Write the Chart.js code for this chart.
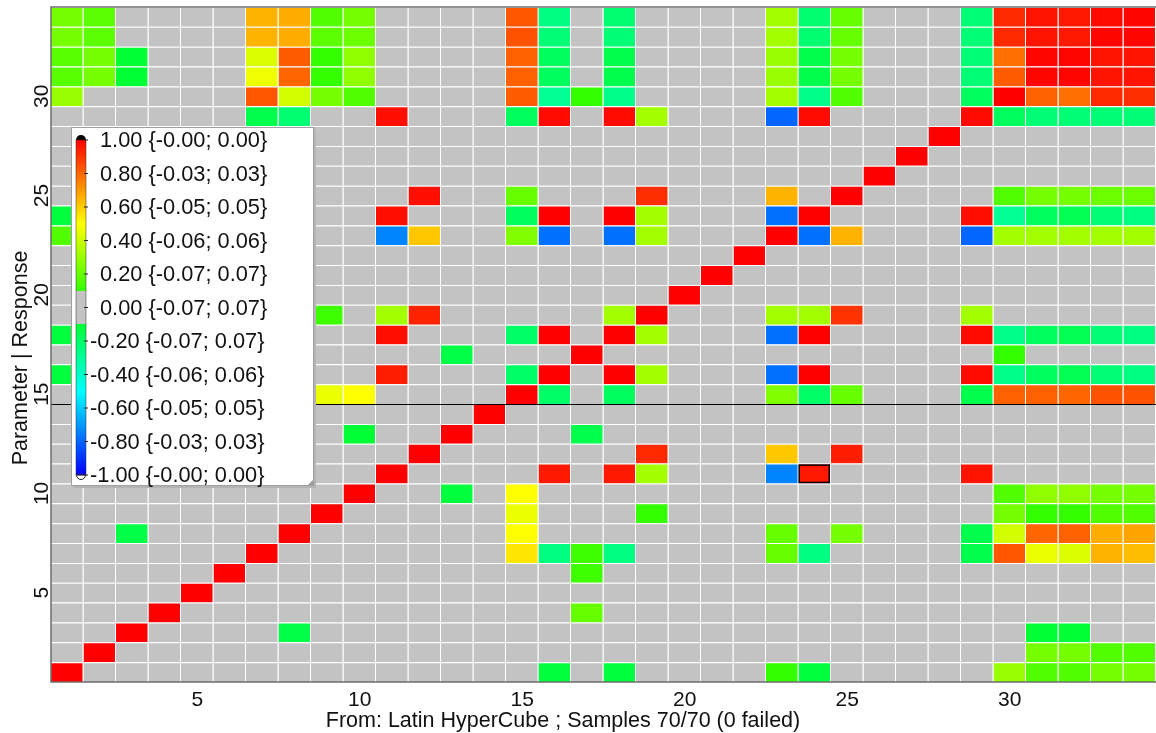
<!DOCTYPE html>
<html><head><meta charset="utf-8">
<script src="https://cdn.jsdelivr.net/npm/chart.js@4.4.1/dist/chart.umd.min.js"></script>
<style>html,body{margin:0;padding:0;background:#fff;overflow:hidden}canvas{display:block}</style>
</head><body>
<canvas id="c" width="1156" height="733"></canvas>
<script>
// ---- categories ----
const columns = ['1','2','3','4','5','6','7','8','9','10','11','12','13','14','15','16','17','18','19','20','21','22','23','24','25','26','27','28','29','30','31','32','33','34'];
const rows = [1,2,3,4,5,6,7,8,9,10,11,12,13,14,15,16,17,18,19,20,21,22,23,24,25,26,27,28,29,30,31,32,33,34];
// ---- correlation values per row (row r, columns 1..34); 0 = not significant (grey) ----
const r01 = [1,0,0,0,0, 0,0,0,0,0, 0,0,0,0,0, -.12,0,-.12,0,0, 0,0,.10,-.12,0, 0,0,0,0,.30, .16,.16,.23,.23];
const r02 = [0,1,0,0,0, 0,0,0,0,0, 0,0,0,0,0, 0,0,0,0,0, 0,0,0,0,0, 0,0,0,0,0, .23,.23,.16,.16];
const r03 = [0,0,1,0,0, 0,0,-.14,0,0, 0,0,0,0,0, 0,0,0,0,0, 0,0,0,0,0, 0,0,0,0,0, -.10,-.10,0,0];
const r04 = [0,0,0,1,0, 0,0,0,0,0, 0,0,0,0,0, 0,.20,0,0,0, 0,0,0,0,0, 0,0,0,0,0, 0,0,0,0];
const r05 = [0,0,0,0,1, 0,0,0,0,0, 0,0,0,0,0, 0,0,0,0,0, 0,0,0,0,0, 0,0,0,0,0, 0,0,0,0];
const r06 = [0,0,0,0,0, 1,0,0,0,0, 0,0,0,0,0, 0,.12,0,0,0, 0,0,0,0,0, 0,0,0,0,0, 0,0,0,0];
const r07 = [0,0,0,0,0, 0,1,0,0,0, 0,0,0,0,.55, -.25,.12,-.25,0,0, 0,0,.20,-.25,0, 0,0,0,-.15,.83, .46,.43,.65,.63];
const r08 = [0,0,-.14,0,0, 0,0,1,0,0, 0,0,0,0,.50, 0,0,0,0,0, 0,0,.20,0,.23, 0,0,0,-.15,.41, .80,.81,.66,.68];
const r09 = [0,0,0,0,0, 0,0,0,1,0, 0,0,0,0,.46, 0,0,0,.10,0, 0,0,0,0,0, 0,0,0,0,.23, .10,.10,.16,.16];
const r10 = [0,0,0,0,0, 0,0,0,0,1, 0,0,-.12,0,.50, 0,0,0,0,0, 0,0,0,0,0, 0,0,0,0,.16, .28,.28,.23,.23];
const r11 = [0,0,0,0,0, 0,0,0,0,0, 1,0,0,0,0, .95,0,.95,.32,0, 0,0,-.74,.95,0, 0,0,0,.96,0, 0,0,0,0];
const r12 = [0,0,0,0,0, 0,0,0,0,0, 0,1,0,0,0, 0,0,0,.92,0, 0,0,.61,0,.94, 0,0,0,0,0, 0,0,0,0];
const r13 = [0,0,0,0,0, 0,0,0,0,-.10, 0,0,1,0,0, 0,-.15,0,0,0, 0,0,0,0,0, 0,0,0,0,0, 0,0,0,0];
const r14 = [0,0,0,0,0, 0,0,0,0,0, 0,0,0,1,0, 0,0,0,0,0, 0,0,0,0,0, 0,0,0,0,0, 0,0,0,0];
const r15 = [0,0,0,0,0, 0,.55,.50,.46,.50, 0,0,0,0,1, -.20,0,-.18,0,0, 0,0,.25,-.20,.20, 0,0,0,-.15,.81, .81,.80,.84,.84];
const r16 = [-.12,0,0,0,0, 0,-.25,0,0,0, .94,0,0,0,-.20, 1,0,1,.32,0, 0,0,-.78,1,0, 0,0,0,.98,-.27, -.18,-.16,-.23,-.25];
const r17 = [0,0,0,.20,0, .12,.12,0,0,0, 0,0,-.14,0,0, 0,1,0,0,0, 0,0,0,0,0, 0,0,0,0,.10, 0,0,0,0];
const r18 = [-.12,0,0,0,0, 0,-.25,0,0,0, .97,0,0,0,-.20, 1,0,1,.32,0, 0,0,-.78,1,0, 0,0,0,.98,-.27, -.18,-.16,-.23,-.25];
const r19 = [0,0,0,0,0, 0,0,0,.12,0, .32,.93,0,0,0, 0,0,.32,1,0, 0,0,.32,.32,.90, 0,0,0,.32,0, 0,0,0,0];
const r20 = [0,0,0,0,0, 0,0,0,0,0, 0,0,0,0,0, 0,0,0,0,1, 0,0,0,0,0, 0,0,0,0,0, 0,0,0,0];
const r21 = [0,0,0,0,0, 0,0,0,0,0, 0,0,0,0,0, 0,0,0,0,0, 1,0,0,0,0, 0,0,0,0,0, 0,0,0,0];
const r22 = [0,0,0,0,0, 0,0,0,0,0, 0,0,0,0,0, 0,0,0,0,0, 0,1,0,0,0, 0,0,0,0,0, 0,0,0,0];
const r23 = [.16,0,0,0,0, 0,.20,.20,0,0, -.74,.61,0,0,.25, -.78,0,-.78,.32,0, 0,0,1,-.78,.65, 0,0,0,-.80,.32, .32,.32,.32,.32];
const r24 = [-.12,0,0,0,0, 0,-.25,0,0,0, .97,0,0,0,-.18, 1,0,1,.32,0, 0,0,-.78,1,0, 0,0,0,.97,-.29, -.18,-.16,-.23,-.25];
const r25 = [0,0,0,0,0, 0,0,.23,0,0, 0,.97,0,0,.20, 0,0,0,.91,0, 0,0,.65,0,1, 0,0,0,0,.16, .23,.23,.21,.21];
const r26 = [0,0,0,0,0, 0,0,0,0,0, 0,0,0,0,0, 0,0,0,0,0, 0,0,0,0,0, 1,0,0,0,0, 0,0,0,0];
const r27 = [0,0,0,0,0, 0,0,0,0,0, 0,0,0,0,0, 0,0,0,0,0, 0,0,0,0,0, 0,1,0,0,0, 0,0,0,0];
const r28 = [0,0,0,0,0, 0,0,0,0,0, 0,0,0,0,0, 0,0,0,0,0, 0,0,0,0,0, 0,0,1,0,0, 0,0,0,0];
const r29 = [0,0,0,0,0, 0,-.15,-.22,0,0, .97,0,0,0,-.18, .98,0,.98,.32,0, 0,0,-.80,.98,0, 0,0,0,.98,-.18, -.23,-.23,-.23,-.23];
const r30 = [.30,0,0,0,0, 0,.83,.41,.23,.16, 0,0,0,0,.82, -.29,.10,-.27,0,0, 0,0,.32,-.27,.16, 0,0,0,-.18,1, .81,.78,.92,.91];
const r31 = [.17,.23,-.10,0,0, 0,.47,.80,.10,.28, 0,0,0,0,.81, -.18,0,-.15,0,0, 0,0,.30,-.15,.23, 0,0,0,-.23,.82, .99,.99,.96,.96];
const r32 = [.17,.23,-.10,0,0, 0,.43,.82,.10,.28, 0,0,0,0,.81, -.18,0,-.15,0,0, 0,0,.30,-.15,.23, 0,0,0,-.23,.78, .99,.99,.96,.96];
const r33 = [.23,.18,0,0,0, 0,.65,.66,.18,.21, 0,0,0,0,.84, -.23,0,-.23,0,0, 0,0,.32,-.22,.20, 0,0,0,-.23,.92, .96,.95,.99,.99];
const r34 = [.23,.18,0,0,0, 0,.65,.66,.16,.23, 0,0,0,0,.83, -.25,0,-.22,0,0, 0,0,.32,-.22,.20, 0,0,0,-.23,.92, .96,.95,.98,.99];
// ---- tick labels, titles, legend ----
const xTickValues = [5,10,15,20,25,30];
const yTickValues = [5,10,15,20,25,30];
const xTitle = 'From: Latin HyperCube ; Samples 70/70 (0 failed)';
const yTitle = 'Parameter | Response';
const legendLevels = [1.00, 0.80, 0.60, 0.40, 0.20, 0.00, -0.20, -0.40, -0.60, -0.80, -1.00];
const legendLabels = ['1.00 {-0.00; 0.00}','0.80 {-0.03; 0.03}','0.60 {-0.05; 0.05}','0.40 {-0.06; 0.06}','0.20 {-0.07; 0.07}','0.00 {-0.07; 0.07}','-0.20 {-0.07; 0.07}','-0.40 {-0.06; 0.06}','-0.60 {-0.05; 0.05}','-0.80 {-0.03; 0.03}','-1.00 {-0.00; 0.00}'];
const splitAt = 14.5;            // boundary between parameters and responses
const highlightCell = {row: 11, col: 24};

// ---- build ----
const rowValues = [r01,r02,r03,r04,r05,r06,r07,r08,r09,r10,r11,r12,r13,r14,r15,r16,r17,r18,r19,r20,r21,r22,r23,r24,r25,r26,r27,r28,r29,r30,r31,r32,r33,r34];
const GREY = '#c3c3c3';
const FONT = '"Liberation Sans", Arial, Helvetica, sans-serif';
function colorFor(v, thr) {
  if (Math.abs(v) < (thr || 0.09)) return GREY;
  const c = Math.max(-1, Math.min(1, v));
  return 'hsl(' + (120 * (1 - c)).toFixed(1) + ',100%,50%)';
}
const datasets = rowValues.map((vals, i) => {
  const r = rows[i];
  return {
    label: 'row ' + r,
    data: vals.map(() => [r - 0.5, r + 0.5]),
    backgroundColor: vals.map(v => colorFor(v)),
    borderColor: '#ffffff',
    borderWidth: {top: 1, right: 1, bottom: 0, left: 0},
    borderSkipped: false,
    inflateAmount: 0,
    grouped: false,
    barPercentage: 1,
    categoryPercentage: 1
  };
});

const decor = {
  id: 'decor',
  afterDatasetsDraw(chart) {
    const {ctx, chartArea: a, scales: {x, y}} = chart;
    ctx.save();
    // highlighted cell
    const el = chart.getDatasetMeta(highlightCell.row - 1).data[highlightCell.col - 1];
    const p = el.getProps(['x', 'y', 'base', 'width'], true);
    const top = Math.min(p.y, p.base), h = Math.abs(p.base - p.y);
    ctx.strokeStyle = '#000'; ctx.lineWidth = 1.5;
    ctx.strokeRect(p.x - p.width / 2 + 0.75, top + 1.5, p.width - 2.5, h - 2.5);
    // split line
    const ys = Math.round(y.getPixelForValue(splitAt)) + 0.5;
    ctx.strokeStyle = '#000'; ctx.lineWidth = 1.2;
    ctx.beginPath(); ctx.moveTo(a.left, ys); ctx.lineTo(a.right, ys); ctx.stroke();
    // frame
    ctx.strokeStyle = '#6e6e6e'; ctx.lineWidth = 1.5;
    ctx.beginPath();
    ctx.moveTo(a.right, a.top); ctx.lineTo(a.left, a.top); ctx.lineTo(a.left, a.bottom); ctx.lineTo(a.right, a.bottom);
    ctx.stroke();
    // x ticks
    ctx.fillStyle = '#111';
    ctx.font = '21px ' + FONT;
    ctx.textAlign = 'center'; ctx.textBaseline = 'alphabetic';
    xTickValues.forEach(v => {
      const px = x.getPixelForValue(v - 1);
      ctx.fillText(String(v), px, 706);
    });
    ctx.font = '21.5px ' + FONT;
    ctx.fillText(xTitle, 563, 727);
    // y ticks
    ctx.font = '21px ' + FONT;
    yTickValues.forEach(v => {
      const py = y.getPixelForValue(v);
      ctx.save(); ctx.translate(47.5, py); ctx.rotate(-Math.PI / 2);
      ctx.fillText(String(v), 0, 0); ctx.restore();
    });
    ctx.font = '21.5px ' + FONT;
    ctx.save(); ctx.translate(26.5, 358); ctx.rotate(-Math.PI / 2);
    ctx.fillText(yTitle, 0, 0); ctx.restore();
    ctx.restore();
  },
  afterDraw(chart) {
    const ctx = chart.ctx;
    ctx.save();
    // legend box
    const L = 71, T = 127, R = 314, B = 486;
    ctx.fillStyle = '#b4b4b4';
    ctx.fillRect(L + 2, T + 2, R - L, B - T);
    ctx.fillStyle = '#fff';
    ctx.fillRect(L, T, R - L, B - T);
    ctx.strokeStyle = '#a0a0a0'; ctx.lineWidth = 1;
    ctx.strokeRect(L + 0.5, T + 0.5, R - L - 1, B - T - 1);
    // grip
    ctx.fillStyle = '#9a9a9a';
    ctx.beginPath(); ctx.moveTo(R - 1, B - 6); ctx.lineTo(R - 1, B - 1); ctx.lineTo(R - 6, B - 1); ctx.closePath(); ctx.fill();
    // colour bar
    const bx = 76, bw = 10, yTop = 140, yBot = 475;
    for (let py = yTop; py < yBot; py++) {
      const v = 1 - 2 * (py + 0.5 - yTop) / (yBot - yTop);
      ctx.fillStyle = colorFor(v, 0.1);
      ctx.fillRect(bx, py, bw, 1.2);
    }
    ctx.fillStyle = '#000';
    ctx.beginPath(); ctx.arc(bx + bw / 2, yTop, bw / 2, Math.PI, 2 * Math.PI); ctx.closePath(); ctx.fill();
    ctx.fillStyle = '#fff'; ctx.strokeStyle = '#222'; ctx.lineWidth = 1;
    ctx.beginPath(); ctx.arc(bx + bw / 2, yBot, bw / 2 - 0.5, 0, Math.PI); ctx.closePath(); ctx.fill(); ctx.stroke();
    ctx.strokeStyle = 'rgba(40,40,40,0.6)'; ctx.lineWidth = 0.8;
    ctx.strokeRect(bx, yTop, bw, yBot - yTop);
    // labels
    ctx.font = '21.8px ' + FONT;
    ctx.fillStyle = '#111'; ctx.textAlign = 'left'; ctx.textBaseline = 'alphabetic';
    const step = (yBot - yTop) / (legendLevels.length - 1);
    legendLevels.forEach((lv, i) => {
      const cy = yTop + i * step;
      ctx.strokeStyle = '#222'; ctx.lineWidth = 1;
      ctx.beginPath(); ctx.moveTo(bx + bw - 2, cy); ctx.lineTo(bx + bw + 2, cy); ctx.stroke();
      ctx.fillText(legendLabels[i], lv < 0 ? 90 : 100, cy + 7.4);
    });
    ctx.restore();
  }
};

new Chart(document.getElementById('c'), {
  type: 'bar',
  data: {labels: columns, datasets},
  options: {
    responsive: false,
    animation: false,
    devicePixelRatio: 1,
    events: [],
    layout: {padding: {left: 51, top: 7, right: 0, bottom: 51}},
    plugins: {legend: {display: false}, tooltip: {enabled: false}},
    scales: {
      x: {type: 'category', display: false, offset: true, grid: {display: false}},
      y: {type: 'linear', display: false, min: 0.5, max: 34.5, grid: {display: false}}
    }
  },
  plugins: [decor]
});
</script>
</body></html>
